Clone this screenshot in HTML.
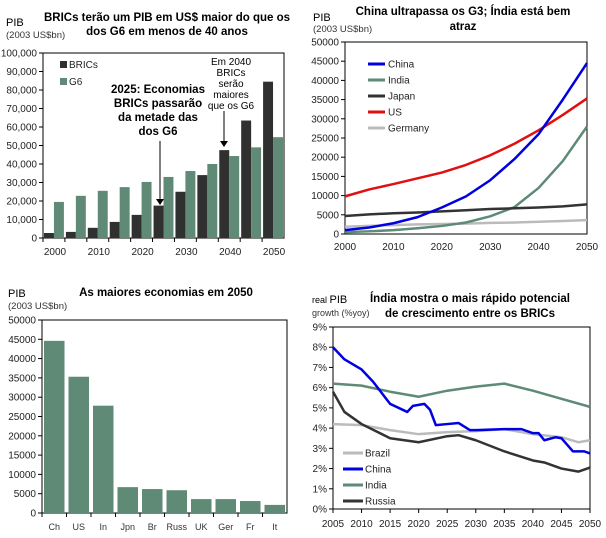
<!DOCTYPE html>
<html><head><meta charset="utf-8"><style>
body{margin:0;background:#fff;}
svg{display:block;font-family:"Liberation Sans",sans-serif;}
.t{font-weight:bold;font-size:11.5px;fill:#000;text-anchor:middle;}
.tk{font-size:10px;fill:#222;}
.sm{font-size:9.5px;fill:#333;}
</style></head><body>
<svg id="c" width="606" height="538" viewBox="0 0 606 538" xmlns="http://www.w3.org/2000/svg">
<text class="t" x="167" y="21">BRICs terão um PIB em US$ maior do que os</text>
<text class="t" x="167" y="35">dos G6 em menos de 40 anos</text>
<text x="6" y="26" style="font-size:11px">PIB</text>
<text x="6" y="38" class="sm">(2003 US$bn)</text>
<text class="t" x="463" y="15">China ultrapassa os G3; Índia está bem</text>
<text class="t" x="463" y="30">atraz</text>
<text x="313" y="21" style="font-size:11px">PIB</text>
<text x="313" y="32" class="sm">(2003 US$bn)</text>
<text class="t" x="166" y="296">As maiores economias em 2050</text>
<text x="8" y="297" style="font-size:11px">PIB</text>
<text x="8" y="309" class="sm">(2003 US$bn)</text>
<text class="t" x="470" y="302">Índia mostra o mais rápido potencial</text>
<text class="t" x="470" y="317">de crescimento entre os BRICs</text>
<text x="312" y="303" style="font-size:9px">real <tspan style="font-size:11px">PIB</tspan></text>
<text x="312" y="316" style="font-size:9px;fill:#333">growth (%yoy)</text>
<g id="g1"></g><g id="g2"></g><g id="g3"></g><g id="g4"></g>
</svg>
<script>
const NS="http://www.w3.org/2000/svg";
function mk(p,t,a,txt){const e=document.createElementNS(NS,t);for(const k in a)e.setAttribute(k,a[k]);if(txt!==undefined)e.textContent=txt;p.appendChild(e);return e;}
// chart 1 data
const years1=[2000,2005,2010,2015,2020,2025,2030,2035,2040,2045,2050];
const brics=[2700,3300,5500,8700,12500,17500,25000,34000,47500,63500,84500];
const g6=[19500,22800,25500,27500,30300,33000,36200,40000,44300,49000,54500];
const ticks1=[0,10000,20000,30000,40000,50000,60000,70000,80000,90000,100000];
// chart 2 data
const years2=[2000,2005,2010,2015,2020,2025,2030,2035,2040,2045,2050];
const china2=[1000,1700,2800,4400,6900,9800,14000,19500,26000,35000,44500];
const india2=[500,700,1000,1500,2100,3000,4600,7000,12000,19000,28000];
const japan2=[4700,5100,5400,5600,5900,6200,6500,6700,6900,7200,7700];
const us2=[9800,11600,13000,14500,16000,18000,20500,23500,27000,31000,35300];
const germany2=[1900,2100,2300,2500,2600,2700,2900,3000,3200,3400,3600];
const ticks2=[0,5000,10000,15000,20000,25000,30000,35000,40000,45000,50000];
// chart 3 data
const countries3=["Ch","US","In","Jpn","Br","Russ","UK","Ger","Fr","It"];
const gdp3=[44600,35300,27800,6700,6200,5900,3600,3600,3100,2100];
const ticks3=[0,5000,10000,15000,20000,25000,30000,35000,40000,45000,50000];
// chart 4 data
const chinaYears=[2005,2007,2010,2012,2015,2018,2019,2021,2022,2023,2025,2027,2029,2030,2035,2038,2040,2041,2042,2044,2045,2047,2049,2050];
const chinaG=[8.0,7.4,6.9,6.3,5.2,4.8,5.1,5.2,4.9,4.15,4.2,4.25,3.9,3.9,3.95,3.95,3.75,3.75,3.4,3.55,3.5,2.85,2.85,2.75];
const indiaYears=[2005,2010,2015,2020,2025,2030,2035,2040,2045,2050];
const indiaG=[6.2,6.1,5.8,5.55,5.85,6.05,6.2,5.85,5.45,5.05];
const brazilYears=[2005,2010,2015,2020,2025,2030,2035,2040,2045,2048,2050];
const brazilG=[4.2,4.15,3.9,3.7,3.8,3.85,3.95,3.7,3.55,3.3,3.4];
const russiaYears=[2005,2007,2010,2015,2020,2025,2027,2030,2035,2040,2042,2045,2048,2050];
const russiaG=[5.8,4.8,4.2,3.5,3.3,3.6,3.65,3.4,2.85,2.4,2.3,2.0,1.85,2.05];
const ticks4=[0,1,2,3,4,5,6,7,8,9];
const xt4=[2005,2010,2015,2020,2025,2030,2035,2040,2045,2050];

function fmt(v){return v.toString().replace(/\B(?=(\d{3})+(?!\d))/g,",");}
function yAxis(g,ticks,y,x0,labelFn,name){
  ticks.forEach(t=>{
    const l=mk(g,'line',{x1:x0-4,x2:x0,y1:y(t),y2:y(t),stroke:'#000'});
    
    
    const tx=mk(g,'text',{x:x0-6,y:y(t)+3.5,'text-anchor':'end',class:'tk'},labelFn(t));
    
    
  });
}
function line(g,xs,ys,x,y,col,w,name){
  const p=mk(g,'polyline',{points:xs.map((v,i)=>x(v)+','+y(ys[i])).join(' '),fill:'none',stroke:col,'stroke-width':w,'stroke-linejoin':'round'});
  
  
}
const DK='#2f302f',GR='#5e8a76';
// chart1
(function(){
  const g=document.getElementById('g1');
  const L=43,R=284,T=53,B=238;
  const y=v=>B-(v/100000)*(B-T);const gw=(R-L)/years1.length;
  const fr=mk(g,'rect',{x:L,y:T,width:R-L,height:B-T,fill:'none',stroke:'#000'});
  
  yAxis(g,ticks1,y,L,fmt,'chart1-y');
  years1.forEach((yr,i)=>{
    const x0=L+i*gw;
    const b=mk(g,'rect',{x:x0+1,y:y(brics[i]),width:gw/2-1,height:B-y(brics[i]),fill:DK});
    
    const c=mk(g,'rect',{x:x0+gw/2,y:y(g6[i]),width:gw/2-1,height:B-y(g6[i]),fill:GR});
    
    const tk=mk(g,'line',{x1:x0,x2:x0,y1:B,y2:B+4,stroke:'#000'});
    
    if(i%2==0){const t=mk(g,'text',{x:x0+gw/2+1,y:B+17,'text-anchor':'middle',class:'tk'},yr);
      }
  });
  [['BRICs',DK,67],['G6',GR,84]].forEach(([n,c,yy])=>{
    const r=mk(g,'rect',{x:60,y:yy-6,width:7,height:7,fill:c});
    
    const t=mk(g,'text',{x:69,y:yy+1,class:'tk'},n);
    
  });
  ['2025: Economias','BRICs passarão','da metade das','dos G6'].forEach((s,i)=>{
    const t=mk(g,'text',{x:158,y:93+i*14,'text-anchor':'middle',style:'font-weight:bold;font-size:11.5px'},s);
    
  });
  ['Em 2040','BRICs','serão','maiores','que os G6'].forEach((s,i)=>{
    const t=mk(g,'text',{x:231,y:65+i*11,'text-anchor':'middle',style:'font-size:10px'},s);
    
  });
  [[160,141,200],[224,111,142]].forEach(([x,a,b2],i)=>{
    const l=mk(g,'line',{x1:x,x2:x,y1:a,y2:b2,stroke:'#000'});
    
    const p=mk(g,'polygon',{points:`${x-4},${b2-1} ${x+4},${b2-1} ${x},${b2+5}`,fill:'#000'});
    
  });
})();
// chart2
(function(){
  const g=document.getElementById('g2');
  const L=345,R=587,T=42,B=234;
  const x=v=>L+(v-2000)/50*(R-L),y=v=>B-v/50000*(B-T);
  const fr=mk(g,'rect',{x:L,y:T,width:R-L,height:B-T,fill:'none',stroke:'#000'});
  
  yAxis(g,ticks2,y,L,v=>v,'chart2-y');
  [2000,2010,2020,2030,2040,2050].forEach(v=>{
    const t=mk(g,'text',{x:x(v),y:B+16,'text-anchor':'middle',class:'tk'},v);
    
  });
  const S=[['Germany',germany2,'#bbbbbb'],['India',india2,GR],['Japan',japan2,'#333333'],['US',us2,'#e01010'],['China',china2,'#0000e0']];
  S.forEach(([n,d,c])=>line(g,years2,d,x,y,c,2.5,'series-'+n.toLowerCase()));
  [['China','#0000e0'],['India',GR],['Japan','#333333'],['US','#e01010'],['Germany','#bbbbbb']].forEach(([n,c],i)=>{
    const yy=64+i*16;
    const l=mk(g,'line',{x1:368,x2:385,y1:yy,y2:yy,stroke:c,'stroke-width':3});
    
    const t=mk(g,'text',{x:388,y:yy+3.5,class:'tk'},n);
    
  });
})();
// chart3
(function(){
  const g=document.getElementById('g3');
  const L=42,R=287,T=320,B=513;
  const y=v=>B-v/50000*(B-T);const gw=(R-L)/countries3.length;
  const fr=mk(g,'rect',{x:L,y:T,width:R-L,height:B-T,fill:'none',stroke:'#000'});
  
  yAxis(g,ticks3,y,L,v=>v,'chart3-y');
  countries3.forEach((c,i)=>{
    const x0=L+i*gw;
    const b=mk(g,'rect',{x:x0+2,y:y(gdp3[i]),width:gw-4,height:B-y(gdp3[i]),fill:GR});
    
    const tk=mk(g,'line',{x1:x0,x2:x0,y1:B,y2:B+4,stroke:'#000'});
    
    const t=mk(g,'text',{x:x0+gw/2,y:B+17,'text-anchor':'middle',style:'font-size:9px;fill:#333'},c);
    
  });
})();
// chart4
(function(){
  const g=document.getElementById('g4');
  const L=333,R=590,T=327,B=509;
  const x=v=>L+(v-2005)/45*(R-L),y=v=>B-v/9*(B-T);
  const fr=mk(g,'rect',{x:L,y:T,width:R-L,height:B-T,fill:'none',stroke:'#000'});
  
  yAxis(g,ticks4,y,L,v=>v+'%','chart4-y');
  xt4.forEach(v=>{
    const tk=mk(g,'line',{x1:x(v),x2:x(v),y1:B,y2:B+4,stroke:'#000'});
    
    const t=mk(g,'text',{x:x(v),y:B+18,'text-anchor':'middle',class:'tk'},v);
    
  });
  line(g,brazilYears,brazilG,x,y,'#bbbbbb',2.5,'series-brazil');
  line(g,indiaYears,indiaG,x,y,GR,2.5,'series-india');
  line(g,russiaYears,russiaG,x,y,'#333333',2.5,'series-russia');
  line(g,chinaYears,chinaG,x,y,'#0000e0',2.5,'series-china');
  [['Brazil','#bbbbbb'],['China','#0000e0'],['India',GR],['Russia','#333333']].forEach(([n,c],i)=>{
    const yy=453+i*16;
    const l=mk(g,'line',{x1:343,x2:363,y1:yy,y2:yy,stroke:c,'stroke-width':3});
    
    const t=mk(g,'text',{x:365,y:yy+3.5,class:'tk'},n);
    
  });
})();
</script>
</body></html>
